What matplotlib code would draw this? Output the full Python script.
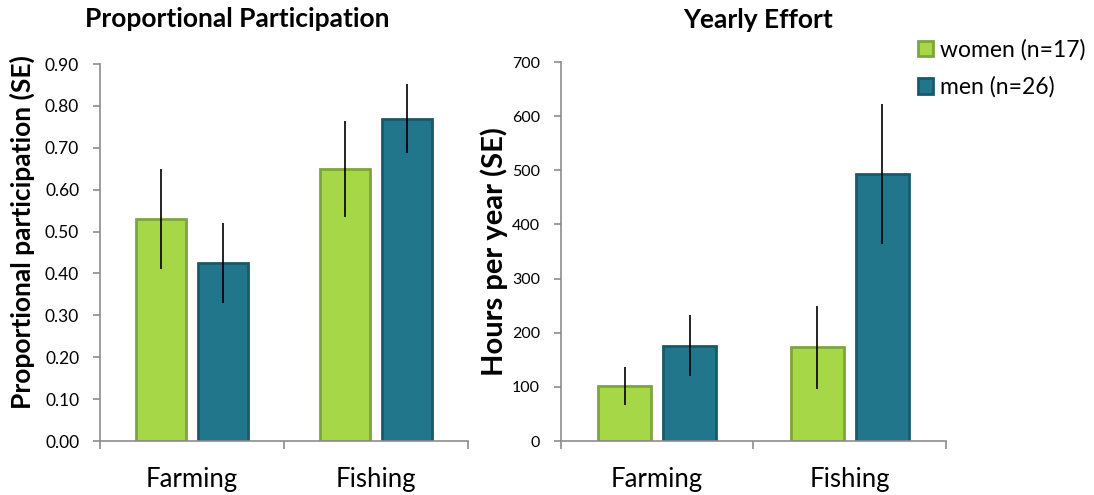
import numpy as np
import matplotlib.pyplot as plt

plt.rcParams['font.family'] = ['Lato', 'DejaVu Sans']

# data
categories = ["Farming", "Fishing"]
women_prop = [0.53, 0.65]
women_prop_se = [0.12, 0.115]
men_prop = [0.425, 0.77]
men_prop_se = [0.095, 0.083]

women_hours = [102, 173]
women_hours_se = [35, 77]
men_hours = [176, 493]
men_hours_se = [56, 130]

legend_labels = ["women (n=17)", "men (n=26)"]

green, green_edge = "#A5D747", "#7EA53B"
blue, blue_edge = "#21768C", "#175A6B"
spine = "#8C8C8C"

fig = plt.figure(figsize=(10.94, 4.95), dpi=100)
ax1 = fig.add_axes([0.0914, 0.109, 0.3364, 0.7616])
ax2 = fig.add_axes([0.5128, 0.109, 0.3519, 0.7657])

x = np.arange(len(categories))
w = 0.275
off = 0.169


def draw(ax, wv, we, mv, me, tick_size):
    b1 = ax.bar(x - off, wv, w, color=green, edgecolor=green_edge, linewidth=2, zorder=2)
    b2 = ax.bar(x + off, mv, w, color=blue, edgecolor=blue_edge, linewidth=2, zorder=2)
    ax.errorbar(x - off, wv, yerr=we, fmt="none", ecolor="black", elinewidth=1.2, capsize=0, zorder=3)
    ax.errorbar(x + off, mv, yerr=me, fmt="none", ecolor="black", elinewidth=1.2, capsize=0, zorder=3)
    ax.set_xlim(-0.5, 1.5)
    ax.set_xticks(x)
    ax.set_xticklabels(categories, fontsize=18.5)
    ax.tick_params(axis="x", which="major", length=0, pad=19)
    ax.set_xticks([-0.5, 0.5, 1.5], minor=True)
    ax.tick_params(axis="x", which="minor", length=6, color=spine, width=1.2)
    ax.tick_params(axis="y", length=5, color=spine, width=1.2, labelsize=tick_size, pad=10)
    for s in ["top", "right"]:
        ax.spines[s].set_visible(False)
    for s in ["left", "bottom"]:
        ax.spines[s].set_color(spine)
        ax.spines[s].set_linewidth(1.2)
    return b1, b2


draw(ax1, women_prop, women_prop_se, men_prop, men_prop_se, 12.5)
ax1.set_ylim(0, 0.9)
ax1.set_yticks(np.arange(0, 0.91, 0.1))
ax1.set_yticklabels([f"{v:.2f}" for v in np.arange(0, 0.91, 0.1)])

b1, b2 = draw(ax2, women_hours, women_hours_se, men_hours, men_hours_se, 11.5)
ax2.set_ylim(0, 700)
ax2.set_yticks(np.arange(0, 701, 100))

fig.text(0.0201, 0.531, "Proportional participation (SE)", fontsize=19, fontweight="bold",
         rotation=90, ha="center", va="center")
fig.text(0.4516, 0.491, "Hours per year (SE)", fontsize=21, fontweight="bold",
         rotation=90, ha="center", va="center")

fig.text(0.2166, 0.945, "Proportional Participation", fontsize=19, fontweight="bold",
         ha="center", va="baseline")
fig.text(0.693, 0.943, "Yearly Effort", fontsize=19, fontweight="bold",
         ha="center", va="baseline")

fig.legend([b1, b2], legend_labels, loc="upper left", bbox_to_anchor=(0.839, 0.921),
           frameon=False, fontsize=16.5, handlelength=0.65, handleheight=0.65,
           handletextpad=0.3, labelspacing=0.69, borderpad=0, borderaxespad=0)

fig.savefig("out.png", dpi=100)
